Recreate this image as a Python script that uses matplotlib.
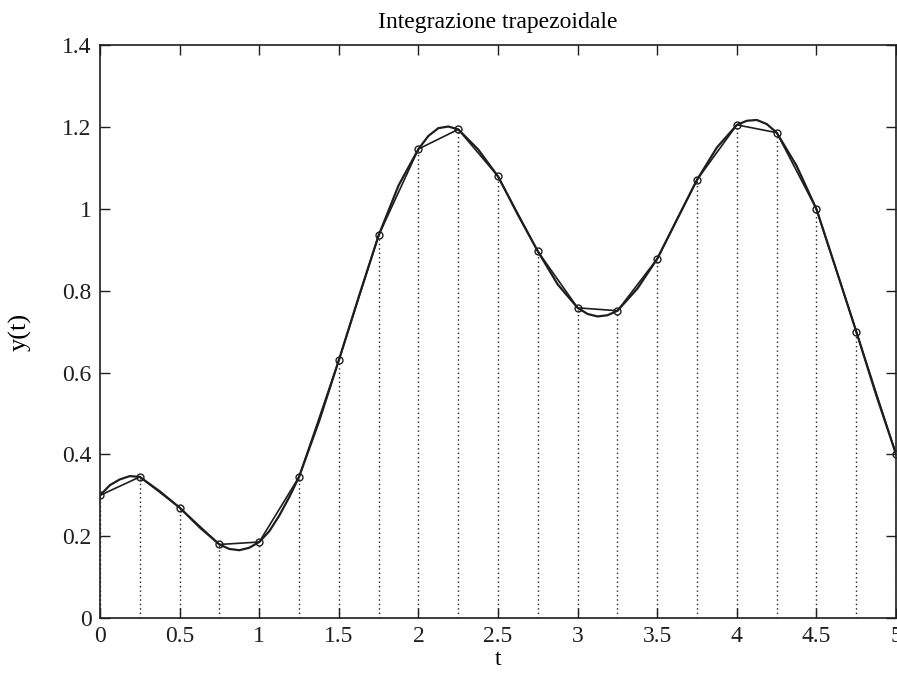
import numpy as np
import matplotlib.pyplot as plt

# nodi della formula dei trapezi
t_nodi = [0, 0.25, 0.5, 0.75, 1.0, 1.25, 1.5, 1.75, 2.0, 2.25, 2.5,
          2.75, 3.0, 3.25, 3.5, 3.75, 4.0, 4.25, 4.5, 4.75, 5.0]
y_nodi = [0.30, 0.345, 0.27, 0.18, 0.186, 0.345, 0.63, 0.935, 1.146, 1.194, 1.079,
          0.896, 0.758, 0.751, 0.878, 1.071, 1.205, 1.186, 0.999, 0.70, 0.40]

# curva "esatta"
t_curva = [0, 0.0625, 0.125, 0.1875, 0.25, 0.375, 0.5, 0.625, 0.75, 0.8125, 0.875,
           0.9375, 1.0, 1.0625, 1.125, 1.1875, 1.25, 1.375, 1.5, 1.625, 1.75, 1.875, 2.0, 2.0625,
           2.125, 2.1875, 2.25, 2.375, 2.5, 2.625, 2.75, 2.875, 3.0, 3.0625, 3.125,
           3.1875, 3.25, 3.375, 3.5, 3.625, 3.75, 3.875, 4.0, 4.0625, 4.125, 4.1875,
           4.25, 4.375, 4.5, 4.625, 4.75, 4.875, 5.0]
y_curva = [0.30, 0.325, 0.339, 0.347, 0.345, 0.31, 0.27, 0.222, 0.18, 0.169, 0.166,
           0.172, 0.186, 0.212, 0.25, 0.295, 0.345, 0.48, 0.63, 0.785, 0.935, 1.057, 1.146, 1.178,
           1.197, 1.201, 1.194, 1.145, 1.079, 0.985, 0.896, 0.815, 0.758, 0.743, 0.737,
           0.740, 0.751, 0.805, 0.878, 0.975, 1.071, 1.15, 1.205, 1.215, 1.217, 1.207,
           1.186, 1.105, 0.999, 0.85, 0.70, 0.545, 0.40]

plt.rcParams['font.family'] = ['Liberation Serif', 'DejaVu Serif']

fig = plt.figure(figsize=(8.97, 6.93), dpi=100)
ax = fig.add_axes([0.1115, 0.108, 0.8875, 0.827])

ax.vlines(t_nodi, 0, y_nodi, colors='#222222', linestyles=(0, (1, 2.2)), linewidth=1.0)
ax.plot(t_curva, y_curva, color='#1e1e1e', linewidth=1.6)
ax.plot(t_nodi, y_nodi, color='#1e1e1e', linewidth=1.2, marker='o', markersize=5,
        markerfacecolor='none', markeredgewidth=1.0)

ax.set_xlim(0, 5)
ax.set_ylim(0, 1.4)
ax.set_xticks(np.arange(0, 5.01, 0.5))
ax.set_xticklabels(['0', '0.5', '1', '1.5', '2', '2.5', '3', '3.5', '4', '4.5', '5'])
ax.set_yticks(np.arange(0, 1.41, 0.2))
ax.set_yticklabels(['0', '0.2', '0.4', '0.6', '0.8', '1', '1.2', '1.4'])
ax.tick_params(direction='in', length=7, width=1.0, top=True, right=True,
               labelsize=17, pad=6, colors='#1e1e1e')
for s in ax.spines.values():
    s.set_linewidth(1.2)
    s.set_color('#1e1e1e')

ax.set_title('Integrazione trapezoidale', fontsize=17, pad=12)
ax.set_xlabel('t', fontsize=17, labelpad=1)
ax.set_ylabel('y(t)', fontsize=19, labelpad=22)

fig.savefig('out.png', dpi=100)
